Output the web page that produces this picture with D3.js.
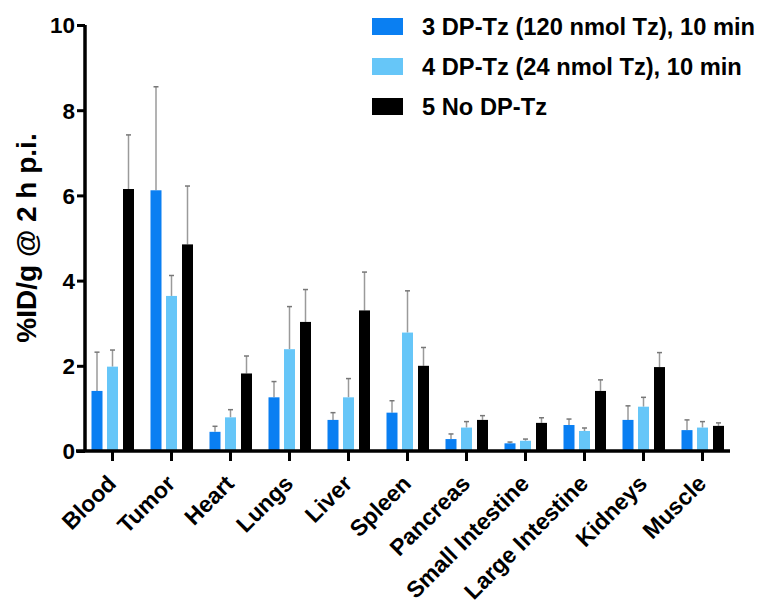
<!DOCTYPE html>
<html><head><meta charset="utf-8">
<script src="https://cdn.jsdelivr.net/npm/d3@7"></script>
<style>body{margin:0;background:#fff}svg{display:block}text{font-family:"Liberation Sans",Arial,sans-serif;font-weight:bold}</style>
</head><body><svg id="c" width="762" height="603"></svg>
<script>
const categories = ["Blood","Tumor","Heart","Lungs","Liver","Spleen","Pancreas","Small Intestine","Large Intestine","Kidneys","Muscle"];
const seriesNames = ["3 DP-Tz (120 nmol Tz), 10 min","4 DP-Tz (24 nmol Tz), 10 min","5 No DP-Tz"];
const s3 = [1.41,6.12,0.45,1.26,0.73,0.90,0.28,0.18,0.61,0.73,0.49];
const s3err = [2.32,8.55,0.58,1.63,0.90,1.18,0.40,0.21,0.75,1.06,0.73];
const s4 = [1.98,3.64,0.79,2.39,1.26,2.78,0.55,0.24,0.47,1.04,0.55];
const s4err = [2.37,4.12,0.97,3.39,1.70,3.76,0.69,0.28,0.54,1.26,0.69];
const s5 = [6.15,4.85,1.82,3.03,3.30,2.00,0.73,0.66,1.41,1.97,0.59];
const s5err = [7.42,6.22,2.23,3.79,4.20,2.43,0.83,0.78,1.67,2.31,0.66];
const yTicks = [0,2,4,6,8,10];
const colors = ["#0a7ff2","#66c6f8","#000000"];

const svg = d3.select("#c");
const x = d3.scaleBand().domain(categories).range([83,732]);
const y = d3.scaleLinear().domain([0,10]).range([451,25]);
const series = [s3,s4,s5], errs=[s3err,s4err,s5err];
const offs = [-15.5,0,16], bw = 11;

series.forEach((s,si)=>{
  const g = svg.append("g");
  categories.forEach((c,i)=>{
    const cx = x(c)+x.bandwidth()/2+offs[si];
    g.append("line").attr("x1",cx).attr("x2",cx).attr("y1",y(s[i])).attr("y2",y(errs[si][i]))
      .attr("stroke","#9a9a9a").attr("stroke-width",1.5);
    g.append("line").attr("x1",cx-2.5).attr("x2",cx+2.5).attr("y1",y(errs[si][i])).attr("y2",y(errs[si][i]))
      .attr("stroke","#777").attr("stroke-width",1.5);
  });
  g.selectAll("rect").data(s).join("rect")
    .attr("x",(d,i)=>x(categories[i])+x.bandwidth()/2+offs[si]-bw/2)
    .attr("width",bw)
    .attr("y",d=>y(d)).attr("height",d=>y(0)-y(d))
    .attr("fill",colors[si]);
});

const ya = svg.append("g").attr("transform","translate(85,0)")
  .call(d3.axisLeft(y).tickValues(yTicks).tickSize(8).tickPadding(2));
ya.select(".domain").attr("stroke","#000").attr("stroke-width",3.5).attr("d","M0,25V451");
ya.selectAll(".tick line").attr("stroke","#000").attr("stroke-width",3);
ya.selectAll(".tick text").attr("font-size",22.5).attr("fill","#000").attr("dy","0.35em");

const xa = svg.append("g").attr("transform","translate(0,451)")
  .call(d3.axisBottom(x).tickSize(10).tickPadding(4));
xa.select(".domain").attr("stroke","#000").attr("stroke-width",3.5).attr("d","M76,0H730");
xa.selectAll(".tick line").attr("stroke","#000").attr("stroke-width",3);
xa.selectAll(".tick text").attr("font-size",23).attr("fill","#000")
  .attr("text-anchor","end").attr("x",0).attr("y",0).attr("dy",0)
  .attr("transform","translate(5,34) rotate(-45)");

svg.append("text").attr("transform","translate(36,238) rotate(-90)")
  .attr("text-anchor","middle").attr("font-size",28).attr("fill","#000").text("%ID/g @ 2 h p.i.");

const lg = svg.append("g");
seriesNames.forEach((n,i)=>{
  lg.append("rect").attr("x",372).attr("y",18+i*40).attr("width",31).attr("height",17).attr("fill",colors[i]);
  lg.append("text").attr("x",422).attr("y",27+i*40).attr("dy","0.35em").attr("font-size",23.7).attr("fill","#000").text(n);
});
</script></body></html>
